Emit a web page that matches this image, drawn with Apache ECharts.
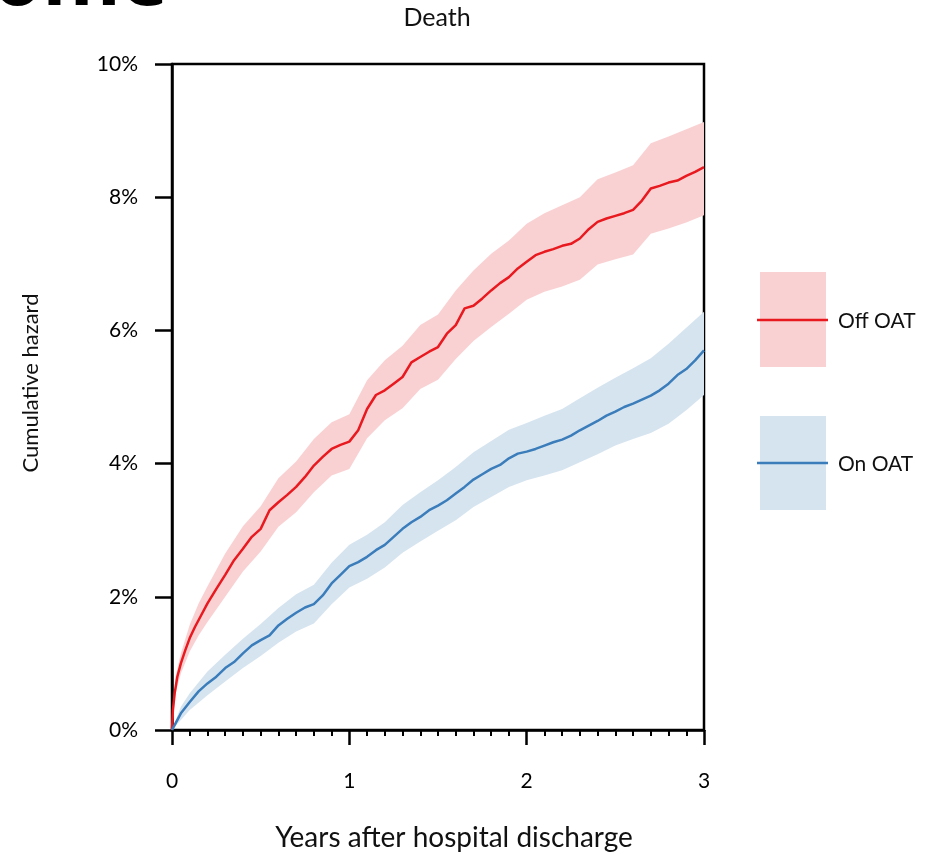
<!DOCTYPE html>
<html>
<head>
<meta charset="utf-8">
<script src="https://cdn.jsdelivr.net/npm/echarts@6/dist/echarts.min.js"></script>
<style>html,body{margin:0;padding:0;background:#fff;}#c{width:936px;height:856px;}</style>
</head>
<body>
<div id="c"></div>
<script>
// ---- Data (years after discharge, cumulative hazard in %) ----
const offT = [0,0.005,0.015,0.03,0.05,0.075,0.1,0.13,0.16,0.2,0.25,0.3,0.35,0.4,0.45,0.5,0.55,0.6,0.65,0.7,0.75,0.8,0.85,0.9,0.95,1.0,1.05,1.1,1.15,1.2,1.25,1.3,1.35,1.4,1.45,1.5,1.55,1.6,1.65,1.7,1.75,1.8,1.85,1.9,1.95,2.0,2.05,2.1,2.15,2.2,2.25,2.3,2.35,2.4,2.45,2.5,2.55,2.6,2.65,2.7,2.75,2.8,2.85,2.9,2.95,3.0];
const offVal = [0,0.3,0.55,0.8,1.0,1.2,1.38,1.55,1.7,1.9,2.12,2.33,2.55,2.72,2.9,3.02,3.3,3.42,3.53,3.65,3.8,3.97,4.1,4.22,4.28,4.33,4.5,4.82,5.03,5.1,5.2,5.3,5.52,5.6,5.68,5.75,5.95,6.08,6.33,6.37,6.48,6.6,6.71,6.8,6.93,7.03,7.13,7.18,7.22,7.27,7.3,7.38,7.52,7.63,7.68,7.72,7.76,7.81,7.95,8.13,8.17,8.22,8.25,8.32,8.38,8.45];

const offBandT  = [0,0.02,0.05,0.1,0.15,0.2,0.3,0.4,0.5,0.6,0.7,0.8,0.9,1.0,1.1,1.2,1.3,1.4,1.5,1.6,1.7,1.8,1.9,2.0,2.1,2.2,2.3,2.4,2.5,2.6,2.7,2.8,2.9,3.0];
const offBandLo = [0,0.55,0.85,1.18,1.42,1.62,2.0,2.38,2.68,3.05,3.27,3.57,3.82,3.92,4.38,4.65,4.83,5.12,5.26,5.57,5.84,6.05,6.25,6.46,6.58,6.66,6.76,6.99,7.07,7.14,7.45,7.53,7.62,7.73];
const offBandHi = [0,0.8,1.15,1.58,1.9,2.16,2.65,3.06,3.36,3.78,4.03,4.37,4.62,4.74,5.25,5.55,5.77,6.08,6.24,6.6,6.9,7.15,7.35,7.6,7.76,7.88,8.0,8.27,8.37,8.48,8.81,8.91,9.02,9.13];

const onT = [0,0.02,0.05,0.1,0.15,0.2,0.25,0.3,0.35,0.4,0.45,0.5,0.55,0.6,0.65,0.7,0.75,0.8,0.85,0.9,0.95,1.0,1.05,1.1,1.15,1.2,1.25,1.3,1.35,1.4,1.45,1.5,1.55,1.6,1.65,1.7,1.75,1.8,1.85,1.9,1.95,2.0,2.05,2.1,2.15,2.2,2.25,2.3,2.35,2.4,2.45,2.5,2.55,2.6,2.65,2.7,2.75,2.8,2.85,2.9,2.95,3.0];
const onVal = [0,0.1,0.25,0.42,0.58,0.7,0.8,0.93,1.02,1.15,1.27,1.35,1.42,1.57,1.67,1.76,1.84,1.89,2.02,2.2,2.33,2.46,2.52,2.6,2.7,2.78,2.9,3.02,3.12,3.2,3.3,3.37,3.45,3.55,3.65,3.76,3.84,3.92,3.98,4.08,4.15,4.18,4.22,4.27,4.32,4.36,4.42,4.5,4.57,4.64,4.72,4.78,4.85,4.9,4.96,5.02,5.1,5.2,5.33,5.42,5.55,5.7];

const onBandT  = [0,0.05,0.1,0.2,0.3,0.4,0.5,0.6,0.7,0.8,0.9,1.0,1.1,1.2,1.3,1.4,1.5,1.6,1.7,1.8,1.9,2.0,2.1,2.2,2.3,2.4,2.5,2.6,2.7,2.8,2.9,3.0];
const onBandLo = [0,0.15,0.3,0.52,0.73,0.93,1.11,1.31,1.48,1.6,1.89,2.14,2.27,2.44,2.66,2.83,2.99,3.15,3.35,3.5,3.65,3.75,3.82,3.9,4.02,4.14,4.27,4.37,4.46,4.6,4.8,5.03];
const onBandHi = [0,0.35,0.55,0.88,1.13,1.37,1.59,1.83,2.04,2.18,2.51,2.78,2.93,3.12,3.38,3.57,3.75,3.95,4.17,4.34,4.51,4.61,4.72,4.82,4.98,5.14,5.29,5.43,5.58,5.8,6.04,6.28];

const seriesNames = ['Off OAT', 'On OAT'];
const xTicks = [0, 1, 2, 3];
const yTicks = [0, 2, 4, 6, 8, 10];

const RED = '#e8191f', RED_BAND = '#fad1d3';
const BLUE = '#3a7dba', BLUE_BAND = '#d6e4f0';
const FONT = 'Lato';

function band(name, t, lo, hi, color) {
  return {
    type: 'custom', name: name + ' band', silent: true, z: 1, clip: true,
    data: [[0, 0]],
    renderItem: function (params, api) {
      const pts = [];
      for (let i = 0; i < t.length; i++) pts.push(api.coord([t[i], hi[i]]));
      for (let i = t.length - 1; i >= 0; i--) pts.push(api.coord([t[i], lo[i]]));
      return { type: 'polygon', shape: { points: pts }, style: { fill: color } };
    }
  };
}
function line(name, t, v, color) {
  return {
    type: 'line', name: name, showSymbol: false, z: 3, silent: true,
    data: t.map((x, i) => [x, v[i]]),
    lineStyle: { color: color, width: 2.5 }, itemStyle: { color: color }
  };
}

const chart = echarts.init(document.getElementById('c'), null, { renderer: 'canvas' });
chart.setOption({
  animation: false,
  backgroundColor: '#fff',
  textStyle: { fontFamily: FONT },
  grid: {
    left: 172, right: 232, top: 64, bottom: 126, outerBoundsMode: 'none',
    show: true, borderColor: '#000', borderWidth: 2.5, backgroundColor: 'transparent'
  },
  xAxis: {
    type: 'value', min: xTicks[0], max: xTicks[xTicks.length - 1], interval: 1,
    name: 'Years after hospital discharge', nameLocation: 'middle', nameGap: 94,
    nameTextStyle: { fontSize: 28, color: '#111', fontFamily: FONT, padding: [0, 0, 0, 32] },
    axisLine: { onZero: false, lineStyle: { color: '#000', width: 2.5 } },
    axisTick: { length: 15, lineStyle: { color: '#000', width: 2.5 } },
    minorTick: { show: true, splitNumber: 10, length: 6, lineStyle: { color: '#000', width: 2 } },
    splitLine: { show: false }, minorSplitLine: { show: false },
    axisLabel: { fontSize: 21, color: '#000', margin: 41, fontFamily: FONT }
  },
  yAxis: {
    type: 'value', min: yTicks[0], max: yTicks[yTicks.length - 1], interval: 2,
    name: 'Cumulative hazard', nameLocation: 'middle', nameGap: 130, nameRotate: 90,
    nameTextStyle: { fontSize: 22, color: '#111', fontFamily: FONT, padding: [0, 0, 0, 28] },
    axisLine: { lineStyle: { color: '#000', width: 2.5 } },
    axisTick: { length: 17, lineStyle: { color: '#000', width: 2.5 } },
    splitLine: { show: false },
    axisLabel: { fontSize: 21, color: '#000', margin: 34, fontFamily: FONT, formatter: '{value}%' }
  },
  graphic: [
    { type: 'text', z: 10, style: { text: 'Outcome', x: 168, y: 22, align: 'right', verticalAlign: 'bottom', font: 'bold 80px "Open Sans"', fill: '#000' } },
    { type: 'text', z: 10, style: { text: 'Death', x: 437, y: 18, align: 'center', verticalAlign: 'middle', font: '25px Lato', fill: '#111' } },
    { type: 'rect', shape: { x: 760, y: 272, width: 66, height: 95 }, style: { fill: RED_BAND } },
    { type: 'line', shape: { x1: 757, y1: 320, x2: 828, y2: 320 }, style: { stroke: RED, lineWidth: 2.5 } },
    { type: 'text', style: { text: seriesNames[0], x: 838, y: 321, verticalAlign: 'middle', font: '21px Lato', fill: '#111' } },
    { type: 'rect', shape: { x: 760, y: 416, width: 66, height: 94 }, style: { fill: BLUE_BAND } },
    { type: 'line', shape: { x1: 757, y1: 463, x2: 828, y2: 463 }, style: { stroke: BLUE, lineWidth: 2.5 } },
    { type: 'text', style: { text: seriesNames[1], x: 838, y: 464, verticalAlign: 'middle', font: '21px Lato', fill: '#111' } }
  ],
  series: [
    band(seriesNames[0], offBandT, offBandLo, offBandHi, RED_BAND),
    band(seriesNames[1], onBandT, onBandLo, onBandHi, BLUE_BAND),
    line(seriesNames[0], offT, offVal, RED),
    line(seriesNames[1], onT, onVal, BLUE)
  ]
});
</script>
</body>
</html>
